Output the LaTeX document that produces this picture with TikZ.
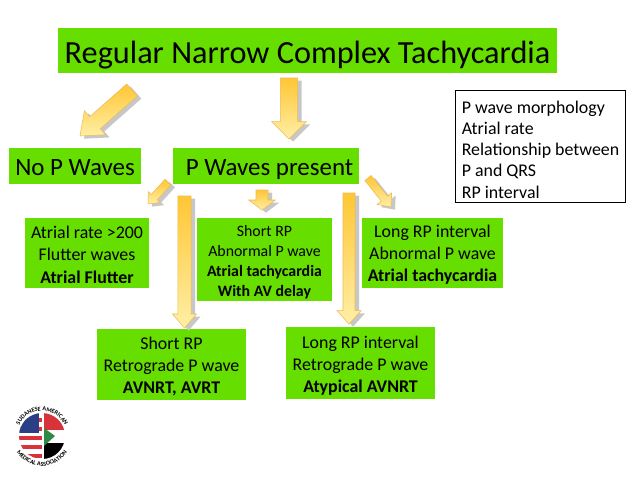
\documentclass[tikz,border=0pt]{standalone}
\usepackage{fontspec}
\setmainfont{Carlito}
\usetikzlibrary{calc,shadows,decorations.text}
\definecolor{boxgreen}{HTML}{66DE00}
\definecolor{arrowdark}{HTML}{FFC634}
\definecolor{arrowpale}{HTML}{FFEFA6}
\definecolor{arrowedge}{HTML}{EDBB55}
\definecolor{flagblue}{HTML}{2B3F86}
\definecolor{flagred}{HTML}{D8333A}
\definecolor{flaggreen}{HTML}{2E8B45}
\tikzset{
  greenbox/.style={fill=boxgreen, inner sep=0pt, align=center, text=black},
  titletext/.style={font=\fontsize{24.2}{28}\selectfont, text height=24pt, text depth=5.2pt},
  bigtext/.style={font=\fontsize{18.7}{22}\selectfont, text height=18.5pt, text depth=5pt},
  boxtext/.style={font=\fontsize{13.4}{16.6}\selectfont},
  smalltext/.style={font=\fontsize{11.9}{15}\selectfont},
  infotext/.style={font=\fontsize{13.4}{15.9}\selectfont},
  blockarrow/.style={draw=arrowedge, line width=0.4pt, top color=arrowdark, bottom color=arrowpale,
    drop shadow={shadow xshift=3pt, shadow yshift=-2pt, fill=black!22, opacity=1}}
}
\newcommand{\topgap}[1]{\rule{0pt}{#1}}
\newcommand{\yellowarrow}[5]{
  \coordinate (headbase) at ($(#2)!#5!(#1)$);
  \path[blockarrow] ($(#1)!#3!90:(#2)$) -- ($(headbase)!#3!90:(#2)$) -- ($(headbase)!#4!90:(#2)$)
    -- (#2) -- ($(headbase)!#4!-90:(#2)$) -- ($(headbase)!#3!-90:(#2)$) -- ($(#1)!#3!-90:(#2)$) -- cycle;
}
\begin{document}
\begin{tikzpicture}[x=0.75pt, y=-0.75pt]
  \useasboundingbox[fill=white] (0,0) rectangle (638,479);

  \node[greenbox, titletext, minimum width=374pt, minimum height=34pt] (title) at (307.5,50.5) {Regular Narrow Complex Tachycardia};
  \node[greenbox, bigtext, minimum width=99pt, minimum height=27pt] (nopwaves) at (75,166) {No P Waves};
  \node[greenbox, bigtext, minimum width=139.5pt, minimum height=27pt] (pwaves) at (266,166) {\hspace*{5.2pt}P Waves present};

  \node[greenbox, boxtext, minimum width=93pt, minimum height=52.5pt] (flutter) at (87,253)
    {\topgap{12pt}Atrial rate >200\\Flutter waves\\\textbf{Atrial Flutter}};
  \node[greenbox, smalltext, minimum width=101pt, minimum height=62pt] (avdelay) at (264.5,259.5)
    {\topgap{11.7pt}Short RP\\Abnormal P wave\\\textbf{Atrial tachycardia}\\\textbf{With AV delay}};
  \node[greenbox, boxtext, minimum width=106pt, minimum height=52.5pt] (longrp) at (432.5,253)
    {\topgap{12pt}Long RP interval\\Abnormal P wave\\\textbf{Atrial tachycardia}};
  \node[greenbox, boxtext, minimum width=112pt, minimum height=53pt] (avnrt) at (171.5,364.5)
    {\topgap{12pt}Short RP\\Retrograde P wave\\\textbf{AVNRT, AVRT}};
  \node[greenbox, boxtext, minimum width=112pt, minimum height=54pt] (atypical) at (360.5,363)
    {\topgap{12.8pt}Long RP interval\\Retrograde P wave\\\textbf{Atypical AVNRT}};

  \node[draw=black, fill=white, line width=0.6pt, infotext, align=left, inner xsep=4.5pt, inner ysep=0pt,
    minimum width=127pt, minimum height=84pt] (criteria) at (540.5,146)
    {\topgap{14.5pt}P wave morphology\\Atrial rate\\Relationship between\\P and QRS\\RP interval};

  \coordinate (a1) at (132,90);   \coordinate (b1) at (80,136);
  \coordinate (a2) at (289,78);   \coordinate (b2) at (289,139);
  \coordinate (a3) at (168,182);  \coordinate (b3) at (148,204);
  \coordinate (a4) at (262,190);  \coordinate (b4) at (262,210);
  \coordinate (a5) at (184.5,196);\coordinate (b5) at (184.5,328);
  \coordinate (a6) at (349,193);  \coordinate (b6) at (349,324);
  \coordinate (a7) at (368,178);  \coordinate (b7) at (391,207);
  \yellowarrow{a1}{b1}{6pt}{12pt}{15pt}
  \yellowarrow{a2}{b2}{6.5pt}{13pt}{13pt}
  \yellowarrow{a3}{b3}{3pt}{6pt}{7pt}
  \yellowarrow{a4}{b4}{4.5pt}{10pt}{7.5pt}
  \yellowarrow{a5}{b5}{5pt}{9pt}{10.5pt}
  \yellowarrow{a6}{b6}{4.5pt}{9pt}{10pt}
  \yellowarrow{a7}{b7}{3pt}{7pt}{8pt}

  \begin{scope}[shift={(42,436)}, yscale=-1]
    \begin{scope}
      \clip (0,0) circle[radius=23];
      \fill[white] (-23,-23) rectangle (23,23);
      \foreach \y in {-22,-13,-4,5,14} {
        \fill[flagred] (-23,\y) rectangle (0,\y+4.5);
      }
      \fill[flagblue] (-23,3) rectangle (-3,23);
      \fill[flagred] (2,6) rectangle (23,23);
      \fill[black] (2,-23) rectangle (23,-7);
      \fill[flaggreen] (2,8) -- (13,0) -- (2,-10) -- cycle;
    \end{scope}
    \path[decorate, decoration={text along path, text align=center,
      text={|\fontsize{4.6}{4.6}\selectfont\bfseries|SUDANESE AMERICAN}}]
      (-25,0) arc[start angle=180, end angle=0, radius=25];
    \path[decorate, decoration={text along path, text align=center,
      text={|\fontsize{4.6}{4.6}\selectfont\bfseries|MEDICAL ASSOCIATION}}]
      (-30,0) arc[start angle=180, end angle=360, radius=30];
  \end{scope}
\end{tikzpicture}
\end{document}
